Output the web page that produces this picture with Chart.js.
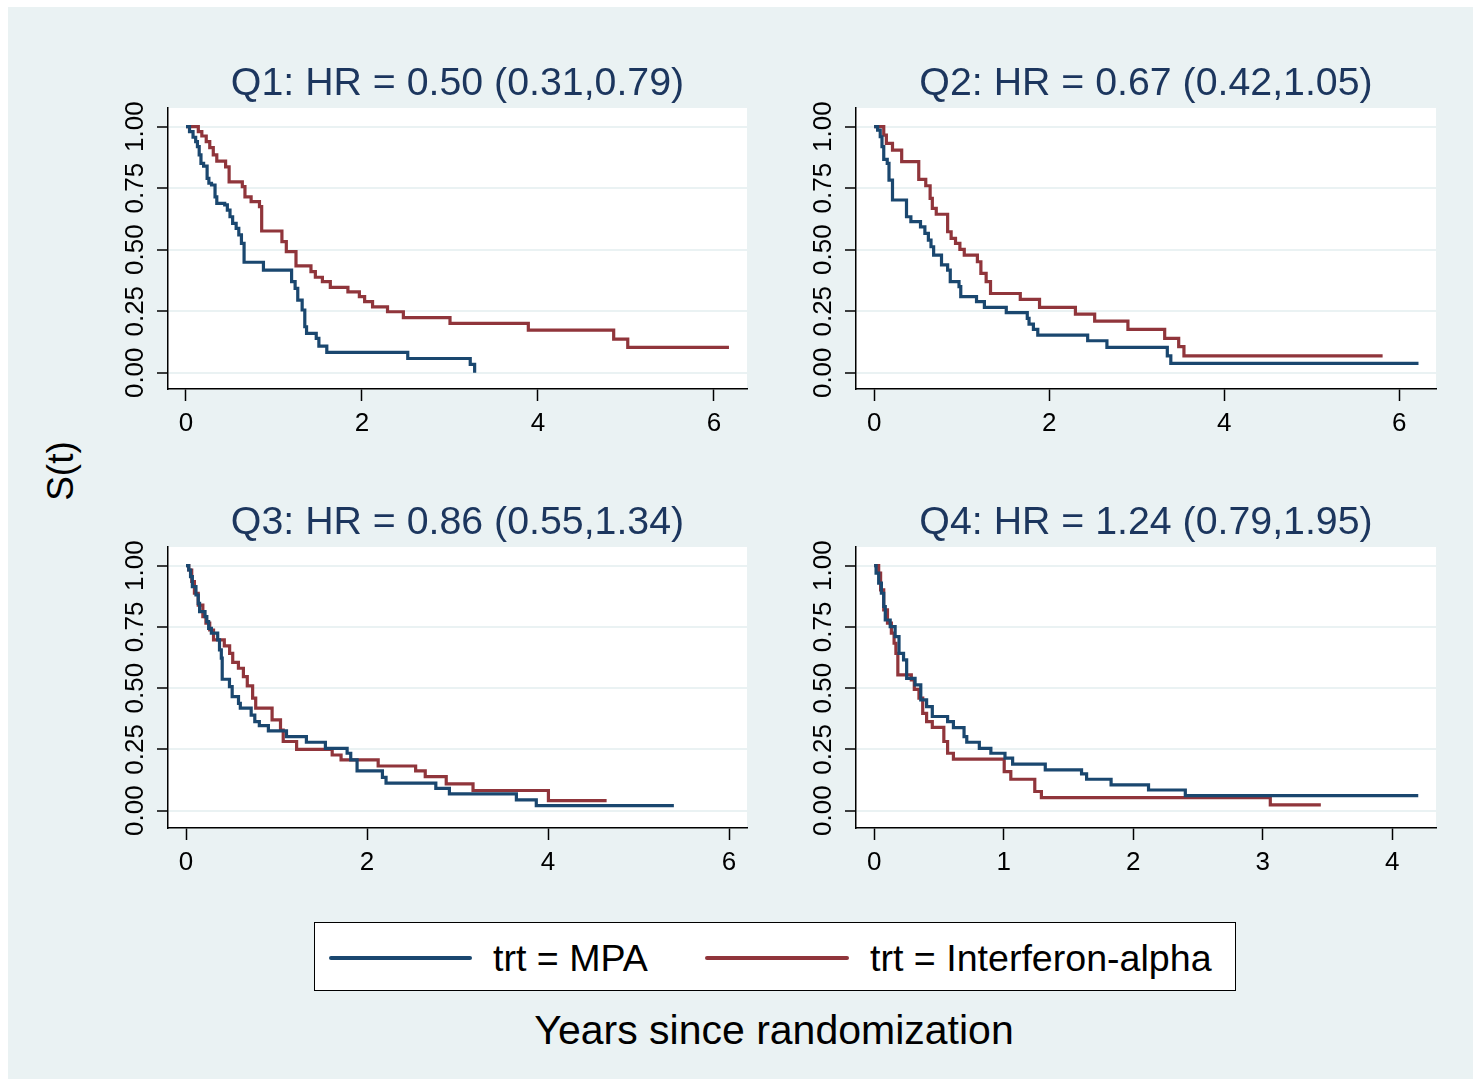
<!DOCTYPE html>
<html>
<head>
<meta charset="utf-8">
<script src="https://cdn.jsdelivr.net/npm/chart.js@4.4.1/dist/chart.umd.min.js"></script>
<style>
  html, body { margin: 0; padding: 0; background: #ffffff; }
  body { width: 1473px; height: 1079px; position: relative; overflow: hidden;
         font-family: 'Liberation Sans', Arial, sans-serif; }
  #bg { position: absolute; left: 8px; top: 7px; width: 1465px; height: 1072px; background: #eaf2f3; }
  canvas { position: absolute; }
  .txt { position: absolute; color: #000; white-space: nowrap; line-height: 1; }
  #ytitle { font-size: 37px; left: 60px; top: 471px; transform: translate(-50%, -50%) rotate(-90deg); }
  #xtitle { font-size: 41px; left: 774px; top: 1030px; transform: translate(-50%, -50%); }
  #legend { position: absolute; left: 314px; top: 922px; width: 920px; height: 67px;
            border: 1.5px solid #000; background: #fff; }
  .lgline { position: absolute; height: 4px; border-radius: 2px; top: 33px; }
  .lgtext { position: absolute; font-size: 37.6px; top: 36px; transform: translateY(-50%); line-height: 1; white-space: nowrap; }
</style>
</head>
<body>
<div id="bg"></div>
<canvas id="c1" width="660" height="420" style="left:100px; top:40px;"></canvas>
<canvas id="c2" width="661" height="420" style="left:788px; top:40px;"></canvas>
<canvas id="c3" width="660" height="420" style="left:100px; top:479px;"></canvas>
<canvas id="c4" width="661" height="420" style="left:788px; top:479px;"></canvas>
<div class="txt" id="ytitle">S(t)</div>
<div id="legend">
  <div class="lgline" style="left:14px; width:143px; background:#1a476f;"></div>
  <div class="lgtext" style="left:178px;">trt = MPA</div>
  <div class="lgline" style="left:390px; width:144px; background:#90353b;"></div>
  <div class="lgtext" style="left:555px;">trt = Interferon-alpha</div>
</div>
<div class="txt" id="xtitle">Years since randomization</div>
<script>
// ---- Data (Kaplan-Meier step points: time in years, survival) ----
const seriesNames = ['trt = MPA', 'trt = Interferon-alpha'];
const panelTitles = ['Q1: HR = 0.50 (0.31,0.79)', 'Q2: HR = 0.67 (0.42,1.05)',
                     'Q3: HR = 0.86 (0.55,1.34)', 'Q4: HR = 1.24 (0.79,1.95)'];
const yTickValues = [0, 0.25, 0.5, 0.75, 1];
const xTicksWide = [0, 2, 4, 6];
const xTicksQ4 = [0, 1, 2, 3, 4];

const q1MpaT = [0, 0.04, 0.08, 0.11, 0.13, 0.15, 0.17, 0.20, 0.24, 0.26, 0.29, 0.33, 0.35, 0.44, 0.47, 0.50, 0.53, 0.57, 0.60, 0.63, 0.66, 0.88, 1.20, 1.24, 1.27, 1.32, 1.35, 1.37, 1.48, 1.51, 1.60, 2.52, 3.23, 3.28];
const q1MpaS = [1, 0.98, 0.957, 0.939, 0.919, 0.885, 0.851, 0.840, 0.790, 0.770, 0.763, 0.715, 0.688, 0.682, 0.661, 0.634, 0.607, 0.587, 0.560, 0.526, 0.449, 0.417, 0.370, 0.343, 0.295, 0.255, 0.187, 0.160, 0.140, 0.108, 0.083, 0.058, 0.034, 0.0];
const q1IfnT = [0, 0.14, 0.18, 0.23, 0.27, 0.31, 0.35, 0.45, 0.49, 0.64, 0.67, 0.74, 0.835, 0.86, 1.09, 1.14, 1.25, 1.42, 1.47, 1.55, 1.64, 1.84, 1.97, 2.03, 2.12, 2.29, 2.47, 3.00, 3.89, 4.86, 5.02, 6.17];
const q1IfnS = [1, 0.98, 0.962, 0.939, 0.915, 0.885, 0.860, 0.837, 0.776, 0.756, 0.715, 0.695, 0.675, 0.576, 0.533, 0.492, 0.434, 0.411, 0.388, 0.370, 0.347, 0.329, 0.309, 0.289, 0.268, 0.248, 0.224, 0.201, 0.173, 0.137, 0.103, 0.103];

const q2MpaT = [0, 0.04, 0.07, 0.09, 0.11, 0.15, 0.17, 0.21, 0.37, 0.42, 0.53, 0.58, 0.62, 0.65, 0.68, 0.77, 0.84, 0.87, 0.97, 0.99, 1.17, 1.26, 1.51, 1.75, 1.77, 1.82, 1.87, 2.44, 2.66, 3.35, 3.39, 6.22];
const q2MpaS = [1, 0.986, 0.959, 0.919, 0.867, 0.851, 0.783, 0.702, 0.634, 0.614, 0.593, 0.566, 0.539, 0.512, 0.478, 0.438, 0.417, 0.370, 0.350, 0.309, 0.289, 0.266, 0.244, 0.221, 0.198, 0.176, 0.153, 0.130, 0.103, 0.069, 0.038, 0.038];
const q2IfnT = [0, 0.11, 0.14, 0.21, 0.315, 0.51, 0.59, 0.64, 0.665, 0.71, 0.84, 0.88, 0.93, 0.98, 1.03, 1.18, 1.22, 1.28, 1.33, 1.67, 1.89, 2.30, 2.52, 2.90, 3.32, 3.48, 3.54, 5.81];
const q2IfnS = [1, 0.966, 0.932, 0.905, 0.858, 0.786, 0.760, 0.709, 0.668, 0.644, 0.573, 0.546, 0.526, 0.501, 0.478, 0.451, 0.404, 0.370, 0.322, 0.298, 0.266, 0.238, 0.210, 0.176, 0.140, 0.106, 0.069, 0.069];

const q3MpaT = [0, 0.03, 0.05, 0.07, 0.11, 0.135, 0.15, 0.21, 0.23, 0.25, 0.28, 0.35, 0.37, 0.39, 0.40, 0.48, 0.51, 0.58, 0.60, 0.72, 0.76, 0.81, 0.91, 1.11, 1.33, 1.54, 1.78, 1.82, 1.89, 2.17, 2.21, 2.76, 2.91, 3.65, 3.87, 5.39];
const q3MpaS = [1, 0.982, 0.955, 0.914, 0.880, 0.846, 0.812, 0.792, 0.771, 0.744, 0.724, 0.697, 0.656, 0.622, 0.536, 0.506, 0.465, 0.438, 0.418, 0.390, 0.363, 0.347, 0.325, 0.302, 0.279, 0.254, 0.234, 0.207, 0.162, 0.136, 0.112, 0.091, 0.068, 0.044, 0.020, 0.020];
const q3IfnT = [0, 0.03, 0.063, 0.093, 0.135, 0.186, 0.22, 0.262, 0.304, 0.423, 0.482, 0.516, 0.579, 0.634, 0.677, 0.736, 0.77, 0.951, 1.044, 1.074, 1.222, 1.615, 1.713, 2.123, 2.537, 2.643, 2.875, 3.171, 4.004, 4.647];
const q3IfnS = [1, 0.982, 0.935, 0.887, 0.839, 0.792, 0.765, 0.737, 0.697, 0.672, 0.642, 0.605, 0.581, 0.547, 0.509, 0.459, 0.418, 0.370, 0.329, 0.282, 0.250, 0.227, 0.207, 0.182, 0.162, 0.139, 0.109, 0.082, 0.041, 0.041];

const q4MpaT = [0, 0.015, 0.035, 0.056, 0.074, 0.086, 0.124, 0.162, 0.192, 0.227, 0.251, 0.316, 0.36, 0.405, 0.449, 0.567, 0.612, 0.694, 0.715, 0.812, 0.901, 1.01, 1.069, 1.321, 1.601, 1.64, 1.829, 2.118, 2.402, 4.2];
const q4MpaS = [1, 0.969, 0.928, 0.887, 0.833, 0.778, 0.751, 0.710, 0.642, 0.615, 0.540, 0.513, 0.452, 0.424, 0.384, 0.363, 0.339, 0.302, 0.279, 0.254, 0.234, 0.214, 0.190, 0.166, 0.150, 0.128, 0.105, 0.084, 0.061, 0.061];
const q4IfnT = [0, 0.035, 0.05, 0.074, 0.103, 0.133, 0.154, 0.168, 0.183, 0.287, 0.31, 0.346, 0.375, 0.405, 0.449, 0.538, 0.567, 0.612, 1.004, 1.055, 1.24, 1.291, 3.058, 3.448];
const q4IfnS = [1, 0.969, 0.901, 0.819, 0.765, 0.724, 0.683, 0.642, 0.554, 0.533, 0.495, 0.459, 0.397, 0.363, 0.340, 0.282, 0.234, 0.210, 0.159, 0.128, 0.078, 0.053, 0.023, 0.023];

// ---- Styling / layout ----
const FONT = "'Liberation Sans', Arial, sans-serif";
const BLUE = '#1a476f', RED = '#90353b', GRID = '#eaf2f3', TITLE = '#1c365e';

const panels = [
  { id: 'c1', title: panelTitles[0], mpa: [q1MpaT, q1MpaS], ifn: [q1IfnT, q1IfnS], xTicks: xTicksWide, xMin: -0.2045, xMax: 6.375, yMin: -0.066, yMax: 1.076 },
  { id: 'c2', title: panelTitles[1], mpa: [q2MpaT, q2MpaS], ifn: [q2IfnT, q2IfnS], xTicks: xTicksWide, xMin: -0.207, xMax: 6.42, yMin: -0.066, yMax: 1.076 },
  { id: 'c3', title: panelTitles[2], mpa: [q3MpaT, q3MpaS], ifn: [q3IfnT, q3IfnS], xTicks: xTicksWide, xMin: -0.199, xMax: 6.198, yMin: -0.071, yMax: 1.076 },
  { id: 'c4', title: panelTitles[3], mpa: [q4MpaT, q4MpaS], ifn: [q4IfnT, q4IfnS], xTicks: xTicksQ4, xMin: -0.14, xMax: 4.337, yMin: -0.071, yMax: 1.076 }
];

const areaBg = {
  id: 'areaBg',
  beforeDraw(chart) {
    const { ctx, chartArea: a } = chart;
    ctx.save();
    ctx.fillStyle = '#ffffff';
    ctx.fillRect(a.left, a.top, a.right - a.left, a.bottom - a.top);
    ctx.restore();
  }
};

function pts(pair) { return pair[0].map((t, i) => ({ x: t, y: pair[1][i] })); }

panels.forEach(p => {
  new Chart(document.getElementById(p.id), {
    type: 'line',
    data: {
      datasets: [
        { label: seriesNames[0], data: pts(p.mpa), borderColor: BLUE, borderWidth: 3.2, pointRadius: 0, stepped: 'before', fill: false },
        { label: seriesNames[1], data: pts(p.ifn), borderColor: RED, borderWidth: 3.2, pointRadius: 0, stepped: 'before', fill: false }
      ]
    },
    options: {
      responsive: false, animation: false, devicePixelRatio: 1,
      layout: { padding: { left: 0, right: 13, top: 0, bottom: 0 } },
      plugins: {
        legend: { display: false }, tooltip: { enabled: false },
        title: { display: true, text: p.title, color: TITLE, fullSize: false,
                 font: { family: FONT, size: 39.3, weight: 'normal', lineHeight: 1.2 },
                 padding: { top: 20.8, bottom: 0 } }
      },
      scales: {
        x: {
          type: 'linear', min: p.xMin, max: p.xMax,
          afterBuildTicks: s => { s.ticks = p.xTicks.map(v => ({ value: v })); },
          afterFit: s => { s.height = 71; },
          grid: { display: true, drawOnChartArea: false, drawTicks: true, tickLength: 12, tickColor: '#000', tickWidth: 1.5 },
          border: { display: true, color: '#000', width: 1.5 },
          ticks: { autoSkip: false, maxRotation: 0, padding: 7, color: '#000', font: { family: FONT, size: 26 },
                   callback: v => String(v) }
        },
        y: {
          type: 'linear', min: p.yMin, max: p.yMax,
          afterBuildTicks: s => { s.ticks = yTickValues.map(v => ({ value: v })); },
          afterFit: s => { s.width = 68; },
          grid: { color: GRID, lineWidth: 2, drawTicks: true, tickLength: 11, tickColor: '#000', tickWidth: 1.5 },
          border: { display: true, color: '#000', width: 1.5 },
          ticks: { autoSkip: false, minRotation: 90, maxRotation: 90, crossAlign: 'center', padding: -4,
                   color: '#000', font: { family: FONT, size: 26 }, callback: v => Number(v).toFixed(2) }
        }
      }
    },
    plugins: [areaBg]
  });
});
</script>
</body>
</html>
